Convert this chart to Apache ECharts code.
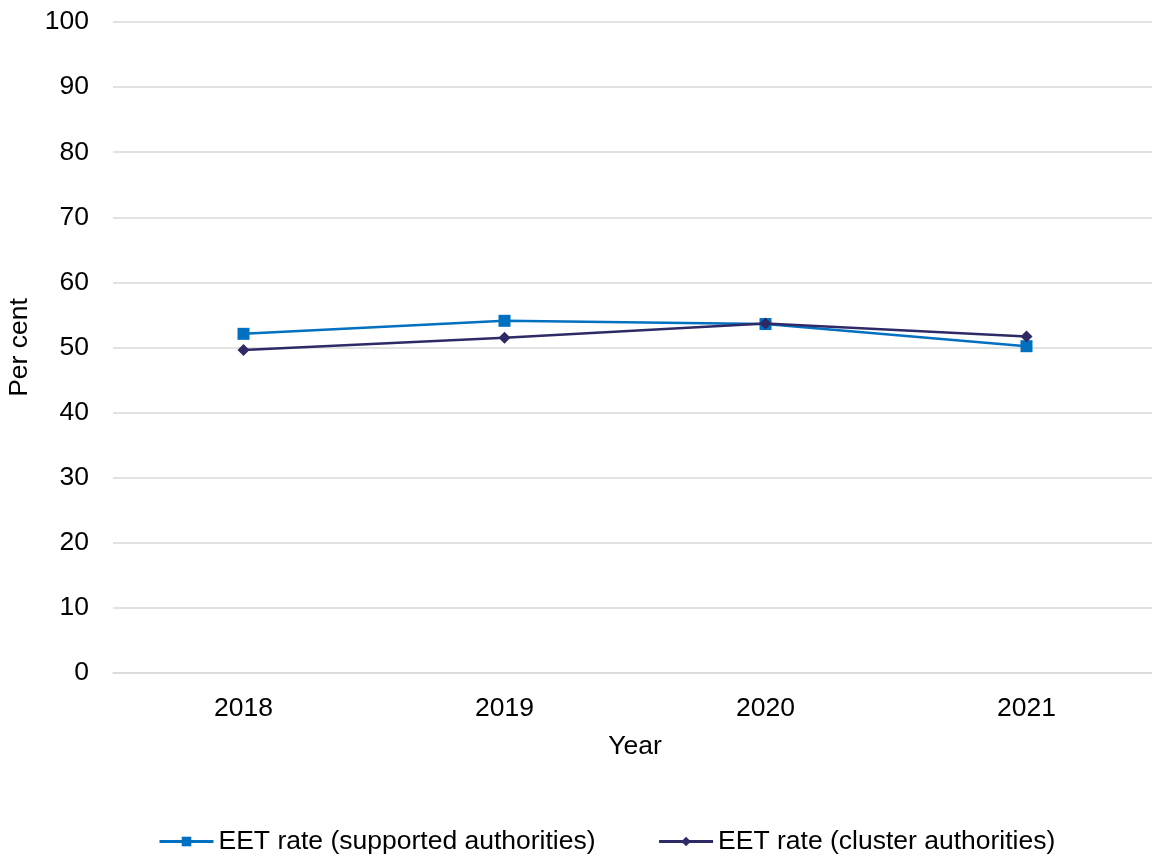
<!DOCTYPE html>
<html>
<head>
<meta charset="utf-8">
<script src="https://cdn.jsdelivr.net/npm/echarts@6/dist/echarts.min.js"></script>
<style>
  html, body { margin: 0; padding: 0; background: #fff; }
  #chart { width: 1152px; height: 860px; }
</style>
</head>
<body>
<div id="chart"></div>
<script>
// EET rates by year, per cent
const years = ['2018', '2019', '2020', '2021'];
const supported = [52.1, 54.1, 53.6, 50.2];
const cluster = [49.6, 51.5, 53.7, 51.7];
const seriesNames = ['EET rate (supported authorities)', 'EET rate (cluster authorities)'];

const FONT = '"Liberation Sans", Arial, sans-serif';
const TEXT = '#000000';
const FS = 26.5;

const chart = echarts.init(document.getElementById('chart'), null, { renderer: 'canvas' });
chart.setOption({
  animation: false,
  backgroundColor: '#ffffff',
  textStyle: { fontFamily: FONT },
  grid: { left: 113, top: 22, width: 1044, bottom: 187, containLabel: false, outerBoundsMode: 'none' },
  legend: {
    top: 828,
    left: 158,
    padding: 0,
    itemGap: 62,
    itemWidth: 54,
    itemHeight: 12,
    lineStyle: { width: 3 },
    textStyle: { fontFamily: FONT, fontSize: FS, color: TEXT },
    data: seriesNames
  },
  xAxis: {
    type: 'category',
    data: years,
    boundaryGap: true,
    name: 'Year',
    nameLocation: 'middle',
    nameGap: 60,
    nameTextStyle: { fontFamily: FONT, fontSize: FS, color: TEXT },
    axisLine: { show: true, lineStyle: { color: '#d9d9d9', width: 1.5 } },
    axisTick: { show: false },
    axisLabel: { fontFamily: FONT, fontSize: FS, color: TEXT, margin: 22 }
  },
  yAxis: {
    type: 'value',
    min: 0,
    max: 100,
    interval: 10,
    name: 'Per cent',
    nameLocation: 'middle',
    nameGap: 80,
    nameRotate: 90,
    nameTextStyle: { fontFamily: FONT, fontSize: FS, color: TEXT },
    axisLine: { show: false },
    axisTick: { show: false },
    axisLabel: { fontFamily: FONT, fontSize: FS, color: TEXT, margin: 24 },
    splitLine: { lineStyle: { color: '#d9d9d9', width: 1.5 } }
  },
  series: [
    {
      name: seriesNames[0],
      type: 'line',
      data: supported,
      symbol: 'rect',
      symbolSize: 12,
      itemStyle: { color: '#0070c0' },
      lineStyle: { color: '#0070c0', width: 2.5 },
      z: 2
    },
    {
      name: seriesNames[1],
      type: 'line',
      data: cluster,
      symbol: 'diamond',
      symbolSize: 12,
      itemStyle: { color: '#2e2a65' },
      lineStyle: { color: '#2e2a65', width: 2.5 },
      z: 3
    }
  ]
});
</script>
</body>
</html>
